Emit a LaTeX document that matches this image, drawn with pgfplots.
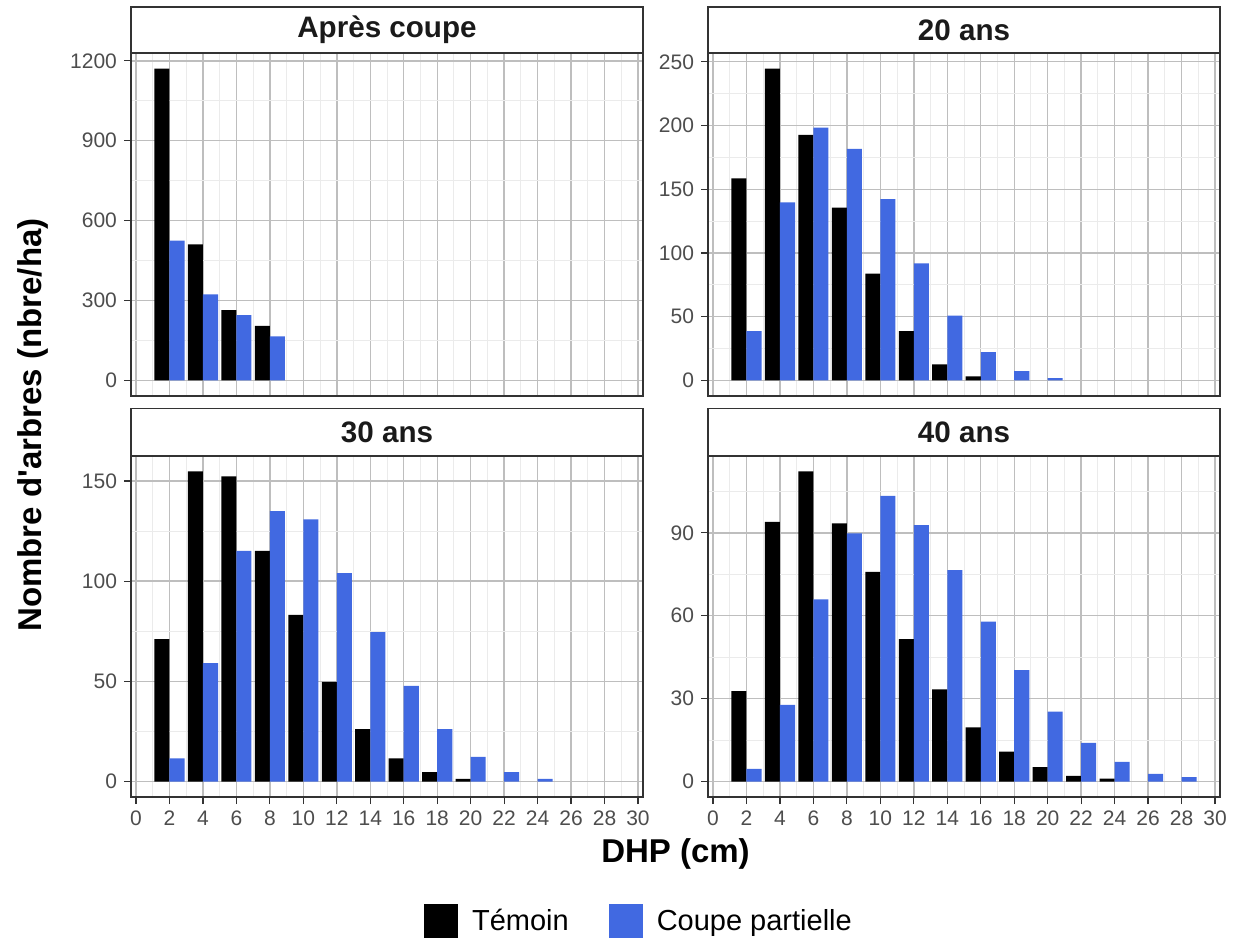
\documentclass[border=0pt]{standalone}
\usepackage{fontspec}
\setmainfont{Liberation Sans}
\usepackage{pgfplots}
\pgfplotsset{compat=1.18}
\definecolor{cblue}{HTML}{4169E1}
\definecolor{gmaj}{HTML}{BEBEBE}
\definecolor{gmin}{HTML}{EBEBEB}
\definecolor{bord}{HTML}{333333}
\definecolor{tlab}{HTML}{4D4D4D}
\definecolor{stext}{HTML}{1A1A1A}
\pgfplotsset{
  panel/.style={
    scale only axis, width=256pt, anchor=north west,
    xmin=-0.3, xmax=30.3,
    xtick={0,2,...,30}, minor xtick={1,3,...,29},
    grid=both,
    major grid style={gmaj, line width=0.7pt},
    minor grid style={gmin, line width=0.5pt},
    axis line style={bord, line width=0.75pt},
    tick align=outside, tick pos=left,
    major tick length=3.5pt, minor tick length=0pt,
    tick style={bord, line width=0.6pt},
    ticklabel style={font=\fontsize{10.5}{12}\selectfont, text=tlab},
    /pgf/number format/assume math mode=true,
    /pgf/number format/1000 sep={},
  },
  toppanel/.style={panel, height=171.5pt, xticklabels={}, xtick style={draw=none}},
  botpanel/.style={panel, height=170.5pt},
  tem/.style={ybar, bar width=0.9, bar shift=0pt, fill=black, draw=none},
  cp/.style={ybar, bar width=0.9, bar shift=0pt, fill=cblue, draw=none},
}
\begin{document}
\begin{tikzpicture}
\path[use as bounding box] (0pt,0pt) rectangle (622.5pt,-472.5pt);
% Top-left: Apres coupe
\begin{axis}[toppanel, at={(65.5pt,-26.5pt)},
  ymin=-58.6, ymax=1229.6, ytick={0,300,600,900,1200}, minor ytick={150,450,750,1050}]
\addplot[tem] coordinates {(1.55,1171) (3.55,511) (5.55,264) (7.55,205)};
\addplot[cp] coordinates {(2.45,525) (4.45,323) (6.45,245) (8.45,165)};
\end{axis}
% Top-right: 20 ans
\begin{axis}[toppanel, at={(354pt,-26.5pt)},
  ymin=-12.2, ymax=256.9, ytick={0,50,100,150,200,250}, minor ytick={25,75,125,175,225}]
\addplot[tem] coordinates {(1.55,158.6) (3.55,244.7) (5.55,192.7) (7.55,135.5) (9.55,83.8) (11.55,38.6) (13.55,12.6) (15.55,3.2)};
\addplot[cp] coordinates {(2.45,38.6) (4.45,139.7) (6.45,198.3) (8.45,181.7) (10.45,142.3) (12.45,91.9) (14.45,50.9) (16.45,22.3) (18.45,7.4) (20.45,1.8)};
\end{axis}
% Bottom-left: 30 ans
\begin{axis}[botpanel, at={(65.5pt,-228pt)},
  ymin=-7.74, ymax=162.5, ytick={0,50,100,150}, minor ytick={25,75,125},
  legend style={at={(0.994,-0.365)}, anchor=center, draw=none, fill=none,
    font=\fontsize{14.5}{17}\selectfont, legend columns=2,
    /tikz/every odd column/.append style={column sep=5pt},
    /tikz/every even column/.append style={column sep=18pt}},
  legend image code/.code={\fill[#1] (0pt,-8.5pt) rectangle (17pt,8.5pt);},
  legend cell align=left]
\addplot[tem] coordinates {(1.55,71.1) (3.55,154.8) (5.55,152.3) (7.55,115.1) (9.55,83.2) (11.55,49.7) (13.55,26.2) (15.55,11.5) (17.55,4.7) (19.55,1.3)};
\addlegendentry{Témoin}
\addplot[cp] coordinates {(2.45,11.5) (4.45,59.1) (6.45,115.1) (8.45,135.0) (10.45,130.9) (12.45,104.0) (14.45,74.6) (16.45,47.8) (18.45,26.2) (20.45,12.3) (22.45,4.7) (24.45,1.3)};
\addlegendentry{Coupe partielle}
\end{axis}
% Bottom-right: 40 ans
\begin{axis}[botpanel, at={(354pt,-228pt)},
  ymin=-5.61, ymax=117.8, ytick={0,30,60,90}, minor ytick={15,45,75,105}]
\addplot[tem] coordinates {(1.55,32.7) (3.55,94.0) (5.55,112.2) (7.55,93.4) (9.55,75.9) (11.55,51.5) (13.55,33.3) (15.55,19.6) (17.55,10.8) (19.55,5.2) (21.55,2.0) (23.55,1.0)};
\addplot[cp] coordinates {(2.45,4.6) (4.45,27.7) (6.45,65.9) (8.45,89.8) (10.45,103.4) (12.45,92.8) (14.45,76.5) (16.45,57.9) (18.45,40.3) (20.45,25.3) (22.45,14.0) (24.45,7.1) (26.45,2.8) (28.45,1.6)};
\end{axis}
% Strips
\begin{scope}[bord, line width=0.75pt]
\draw[fill=white] (65.5pt,-3.5pt) rectangle (321.5pt,-26.5pt);
\draw[fill=white] (354pt,-3.5pt) rectangle (610pt,-26.5pt);
\draw[fill=white] (65.5pt,-204.25pt) rectangle (321.5pt,-228pt);
\draw[fill=white] (354pt,-204.25pt) rectangle (610pt,-228pt);
\end{scope}
\begin{scope}[every node/.style={font=\bfseries\fontsize{14.8}{17}\selectfont, text=stext}]
\node at (193.5pt,-15pt) {Après coupe};
\node at (482pt,-15pt) {20 ans};
\node at (193.5pt,-216pt) {30 ans};
\node at (482pt,-216pt) {40 ans};
\end{scope}
% Axis titles
\node[rotate=90, font=\bfseries\fontsize{16.5}{20}\selectfont] at (16.5pt,-212.5pt) {Nombre d\textquotesingle arbres (nbre/ha)};
\node[anchor=base, font=\bfseries\fontsize{16.5}{20}\selectfont] at (337.75pt,-431pt) {DHP (cm)};
\end{tikzpicture}
\end{document}
